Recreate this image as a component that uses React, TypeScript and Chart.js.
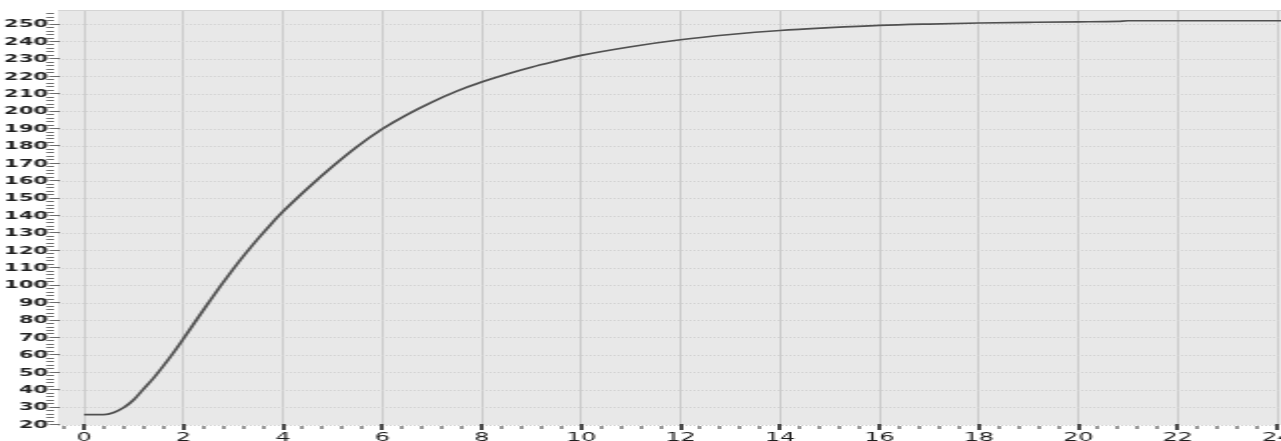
import React, { useEffect, useRef } from "react";
import { Chart, registerables } from "chart.js";

Chart.register(...registerables);

const timeValues = [
  0, 0.4, 0.6, 0.8, 1.0, 1.2, 1.4, 1.6, 1.8, 2.0, 2.25, 2.5, 2.75, 3.0, 3.25,
  3.5, 3.75, 4.0, 4.5, 5.0, 5.5, 6.0, 6.5, 7.0, 7.5, 8.0, 8.5, 9.0, 9.5, 10, 11,
  12, 13, 14, 15, 16, 17, 18, 19, 20, 20.8, 21, 24.1,
];
const levelValues = [
  26, 26, 27.2, 30, 34.5, 40.8, 47, 54, 61.5, 69.5, 79.8, 90, 100, 109.5, 118.5,
  127, 135, 142.5, 156, 168.5, 180, 190, 198.3, 205.5, 211.8, 217, 221.5, 225.5,
  229, 232.3, 237.3, 241.3, 244.3, 246.6, 248.2, 249.5, 250.3, 250.9, 251.3,
  251.6, 251.8, 252.2, 252.2,
];

const X_MIN = -0.523;
const X_MAX = 24.08;
const Y_MIN = 20;
const Y_MAX = 257.8;
const X_MAJOR_STEP = 2;
const X_MINOR_STEP = 0.4;
const Y_MAJOR_STEP = 10;
const Y_MINOR_STEP = 2;

const plotBackground = {
  id: "plotBackground",
  beforeDraw(chart: any) {
    const { ctx, chartArea: a } = chart;
    ctx.save();
    ctx.fillStyle = "#e8e8e8";
    ctx.fillRect(a.left, a.top, a.right - a.left, a.bottom - a.top);
    ctx.strokeStyle = "#d4d4d4";
    ctx.lineWidth = 1;
    ctx.beginPath();
    ctx.moveTo(a.left, a.top - 0.5);
    ctx.lineTo(a.right, a.top - 0.5);
    ctx.stroke();
    ctx.restore();
  },
};

const axisTicks = {
  id: "axisTicks",
  afterDraw(chart: any) {
    const { ctx, chartArea: a } = chart;
    const xs = chart.scales.x;
    const ys = chart.scales.y;
    ctx.save();
    ctx.strokeStyle = "#6e6e6e";
    ctx.lineWidth = 1;
    const nY = Math.floor((Y_MAX - Y_MIN) / Y_MINOR_STEP + 1e-6);
    for (let i = 0; i <= nY; i++) {
      const v = Y_MIN + i * Y_MINOR_STEP;
      const py = Math.round(ys.getPixelForValue(v)) - 0.5;
      ctx.beginPath();
      if (Math.abs(v % Y_MAJOR_STEP) < 1e-6) {
        ctx.moveTo(a.left - 4.5, py);
        ctx.lineTo(a.left + 1, py);
      } else {
        ctx.moveTo(a.left - 5.8, py);
        ctx.lineTo(a.left - 2, py);
      }
      ctx.stroke();
    }
    const kStart = Math.ceil(X_MIN / X_MINOR_STEP);
    const kEnd = Math.floor(X_MAX / X_MINOR_STEP);
    const ratio = Math.round(X_MAJOR_STEP / X_MINOR_STEP);
    for (let k = kStart; k <= kEnd; k++) {
      const v = k * X_MINOR_STEP;
      const px = Math.round(xs.getPixelForValue(v));
      if (k % ratio === 0) {
        ctx.fillStyle = "#4a4a4a";
        ctx.fillRect(px - 1, a.bottom - 1, 2, 6);
      } else {
        ctx.fillStyle = "#333333";
        ctx.fillRect(px - 0.5, a.bottom + 1, 1, 3);
      }
    }
    ctx.restore();
  },
};

export default function App() {
  const canvasRef = useRef<HTMLCanvasElement | null>(null);

  useEffect(() => {
    document.body.style.margin = "0";
    const canvas = canvasRef.current;
    if (!canvas) return;
    const points = timeValues.map((t, i) => ({ x: t, y: levelValues[i] }));
    const chart = new Chart(canvas, {
      type: "line",
      data: {
        datasets: [
          {
            data: points,
            borderColor: "#505050",
            borderWidth: 1.7,
            pointRadius: 0,
            fill: false,
            cubicInterpolationMode: "monotone",
          },
        ],
      },
      options: {
        responsive: false,
        animation: false,
        devicePixelRatio: 1,
        layout: { padding: { top: 11, left: 0, right: 0, bottom: 0 } },
        plugins: {
          legend: { display: false },
          tooltip: { enabled: false },
        },
        scales: {
          x: {
            type: "linear",
            min: X_MIN,
            max: X_MAX,
            border: { display: false },
            grid: { color: "#cccccc", lineWidth: 1, drawTicks: false },
            ticks: {
              stepSize: X_MAJOR_STEP,
              includeBounds: false,
              autoSkip: false,
              maxRotation: 0,
              padding: 6,
              color: "#1e1e1e",
              font: { family: "DejaVu Sans", size: 12 },
            },
            afterFit: (s: any) => {
              s.height = 16;
              s.paddingLeft = 0;
              s.paddingRight = 0;
            },
          },
          y: {
            type: "linear",
            min: Y_MIN,
            max: Y_MAX,
            border: { display: false, dash: [1, 1] },
            grid: { color: "#d2d2d2", lineWidth: 1, drawTicks: false },
            ticks: {
              stepSize: Y_MAJOR_STEP,
              includeBounds: false,
              autoSkip: false,
              padding: 5,
              color: "#222222",
              font: { family: "DejaVu Sans", size: 10.5, weight: "bold" },
            },
            afterFit: (s: any) => {
              s.width = 29;
              s.paddingTop = 0;
              s.paddingBottom = 0;
            },
          },
        },
      },
      plugins: [plotBackground, axisTicks],
    } as any);
    return () => chart.destroy();
  }, []);

  return (
    <div>
      <canvas
        ref={canvasRef}
        width={641}
        height={441}
        style={{ width: "1281px", height: "441px", display: "block" }}
      />
    </div>
  );
}
